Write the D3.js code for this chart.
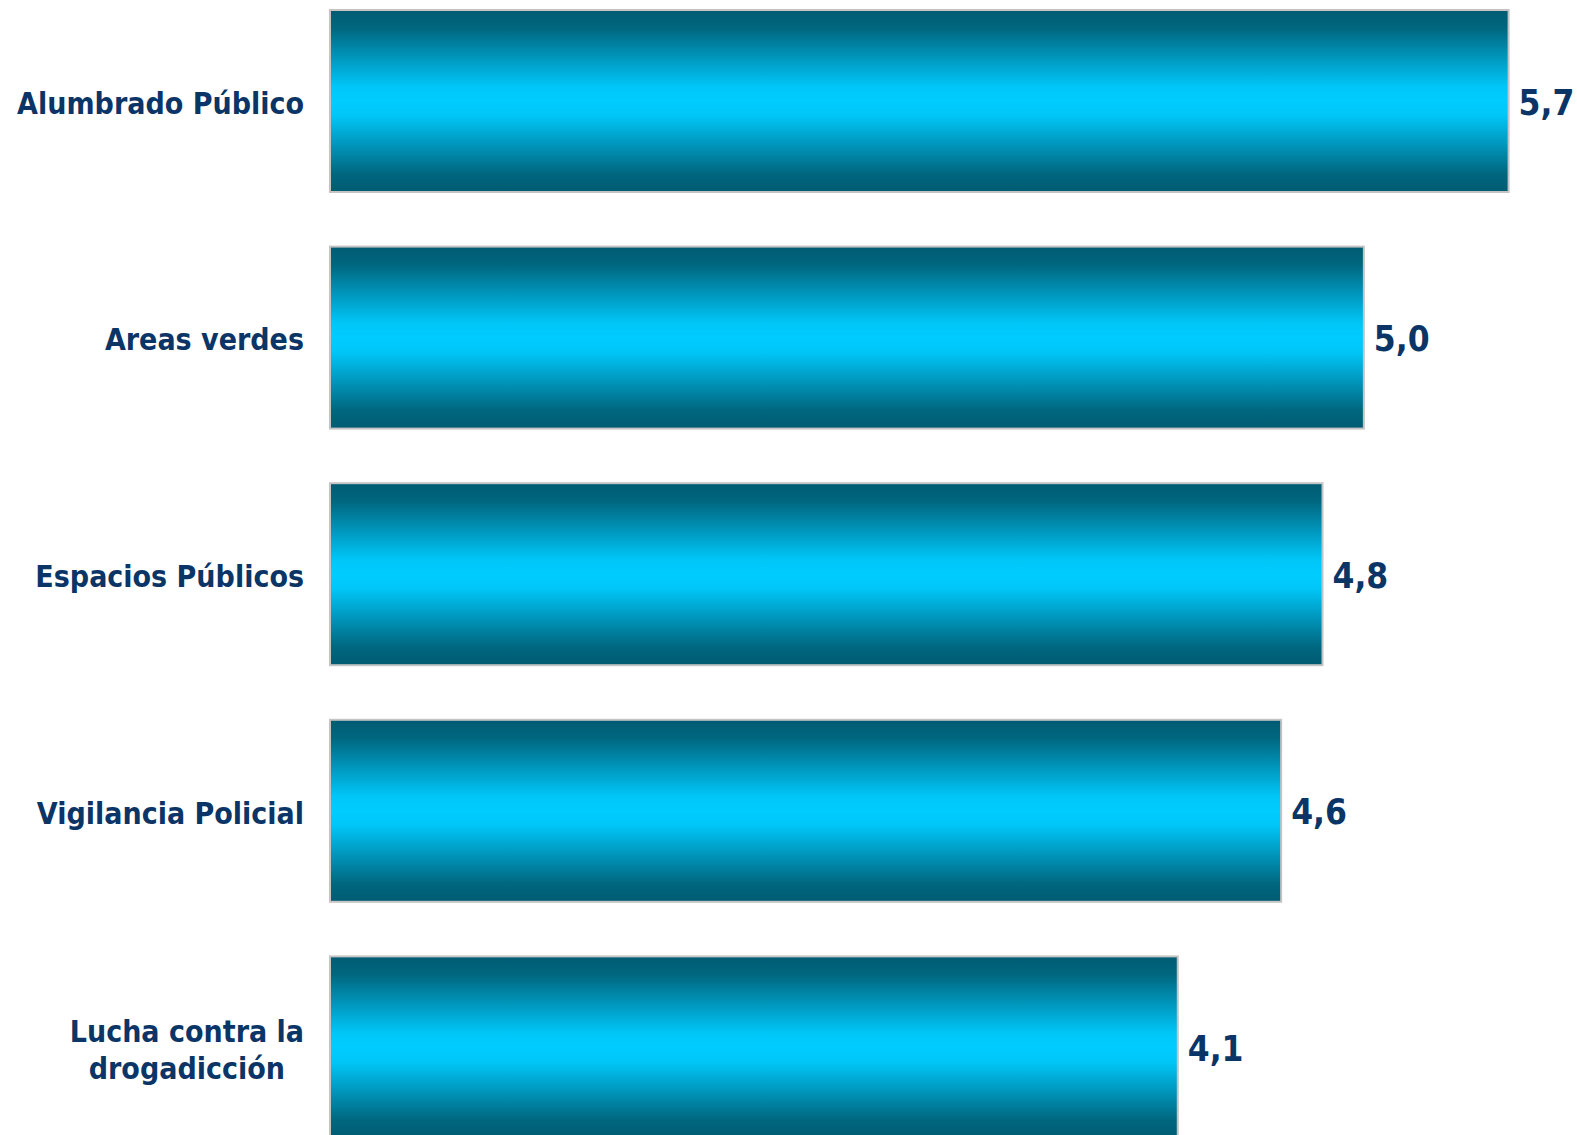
<!DOCTYPE html>
<html>
<head>
<meta charset="utf-8">
<script src="https://cdn.jsdelivr.net/npm/d3@7"></script>
<style>
  html, body { margin: 0; padding: 0; background: #ffffff; overflow: hidden; }
  svg { display: block; }
</style>
</head>
<body>
<div id="chart"></div>
<script>
// ---- data ----
const categories = [
  "Alumbrado Público",
  "Areas verdes",
  "Espacios Públicos",
  "Vigilancia Policial",
  "Lucha contra la\ndrogadicción"
];
const values = [5.7, 5.0, 4.8, 4.6, 4.1];
const valueLabels = ["5,7", "5,0", "4,8", "4,6", "4,1"];

// ---- layout ----
const W = 1577, H = 1135;
const svg = d3.select("#chart").append("svg")
  .attr("width", W).attr("height", H);

const defs = svg.append("defs");
const grad = defs.append("linearGradient")
  .attr("id", "barGrad").attr("x1", 0).attr("y1", 0).attr("x2", 0).attr("y2", 1);
[
  [0, "#005b72"], [0.1, "#00677f"], [0.24, "#0090b4"], [0.42, "#00c6f7"],
  [0.5, "#00ccff"], [0.58, "#00c6f7"], [0.76, "#0090b4"], [0.9, "#00677f"], [1, "#005b72"]
].forEach(([o, c]) => grad.append("stop").attr("offset", o).attr("stop-color", c));

const x = d3.scaleLinear().domain([0, 5.7]).range([330, 1508.6]);
const step = 236.6;
const pin = 0.2308;
const y0 = 10 - step * pin / 2;
const y = d3.scaleBand()
  .domain(categories)
  .range([y0, y0 + step * categories.length])
  .paddingInner(pin)
  .paddingOuter(pin / 2);

const data = categories.map((c, i) => ({ c, v: values[i], lab: valueLabels[i] }));

svg.selectAll("rect.bar").data(data).enter().append("rect")
  .attr("class", "bar")
  .attr("x", x(0))
  .attr("y", d => y(d.c))
  .attr("width", d => x(d.v) - x(0))
  .attr("height", y.bandwidth())
  .attr("fill", "url(#barGrad)")
  .attr("stroke", "#c4c4c4")
  .attr("stroke-width", 2);

const textColor = "#0b3566";
const fontFam = "'DejaVu Sans Condensed', 'DejaVu Sans', sans-serif";

// category labels
data.forEach(d => {
  const lines = d.c.split("\n");
  const cy = y(d.c) + y.bandwidth() / 2 + 2;
  const lh = 37;
  const t = svg.append("text")
    .attr("font-family", fontFam)
    .attr("font-weight", "bold")
    .attr("font-size", 30)
    .attr("fill", textColor)
    .attr("text-anchor", lines.length > 1 ? "middle" : "end");
  lines.forEach((ln, i) => {
    t.append("tspan")
      .attr("x", 0)
      .attr("y", cy + (i - (lines.length - 1) / 2) * lh)
      .attr("dy", "0.36em")
      .text(ln);
  });
  if (lines.length > 1) {
    let maxW = 0;
    t.selectAll("tspan").each(function () { maxW = Math.max(maxW, this.getComputedTextLength()); });
    t.selectAll("tspan").attr("x", 304 - maxW / 2);
  } else {
    t.selectAll("tspan").attr("x", 304);
  }
});

// value labels
svg.selectAll("text.val").data(data).enter().append("text")
  .attr("class", "val")
  .attr("x", d => x(d.v) + 10)
  .attr("y", d => y(d.c) + y.bandwidth() / 2 + 1)
  .attr("dy", "0.36em")
  .attr("font-family", fontFam)
  .attr("font-weight", "bold")
  .attr("font-size", 35)
  .attr("fill", textColor)
  .text(d => d.lab);
</script>
</body>
</html>
